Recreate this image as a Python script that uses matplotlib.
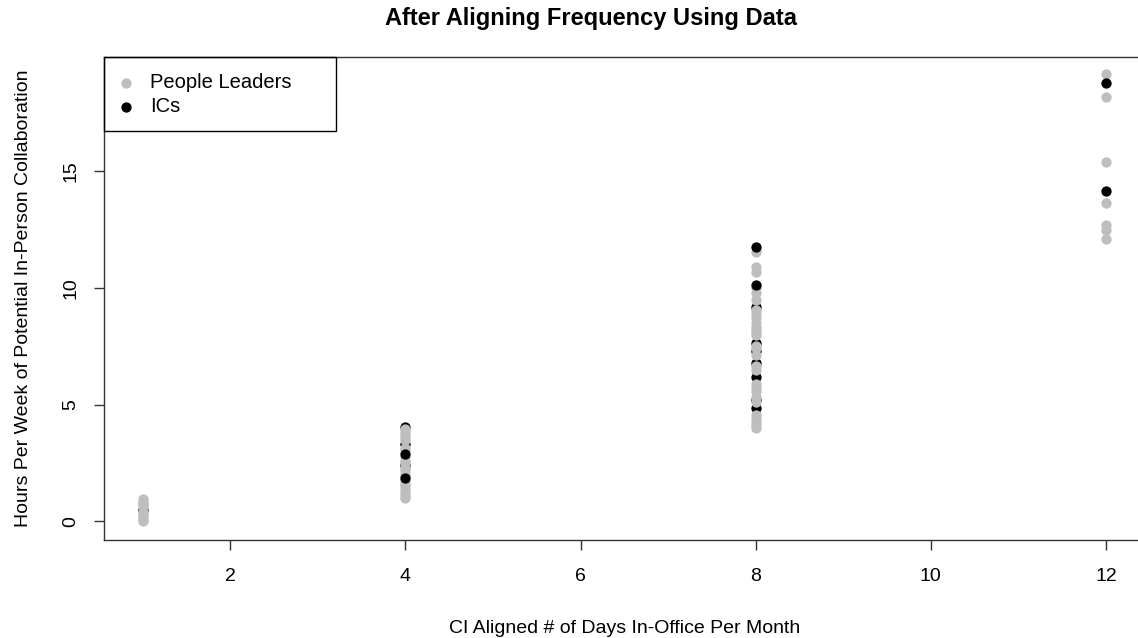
import matplotlib
matplotlib.use("Agg")
import matplotlib.pyplot as plt
from matplotlib.patches import Rectangle

plt.rcParams['font.family'] = ['Liberation Sans', 'DejaVu Sans']

# hours per week for people leaders, by aligned in-office days
leaders_d1 = [0.0, 0.12, 0.25, 0.33, 0.42, 0.8, 0.67, 0.75, 0.85, 0.94]
leaders_d4 = [1.0, 1.1, 1.2, 1.35, 1.5, 1.6, 1.75, 1.95, 2.05, 2.2, 2.3,
              2.5, 2.6, 2.75, 3.05, 3.15, 3.5, 3.6, 3.75, 3.85, 3.95]
leaders_d8 = [11.54, 10.9, 10.7, 10.0, 9.77, 9.47, 9.05, 8.9, 8.7, 8.5,
              8.35, 8.2, 8.0, 8.1, 7.5, 7.45, 7.15, 6.65, 6.5, 5.88,
              5.75, 5.6, 5.35, 5.1, 4.55, 4.4, 4.25, 4.15, 4.0]
leaders_d12 = [19.16, 18.19, 15.4, 13.64, 12.69, 12.47, 12.09]

leaders_x = ([1] * len(leaders_d1) + [4] * len(leaders_d4)
             + [8] * len(leaders_d8) + [12] * len(leaders_d12))
leaders_y = leaders_d1 + leaders_d4 + leaders_d8 + leaders_d12

# ICs drawn beneath / above the leaders
ics_back_x = [1, 4, 4, 4, 8, 8, 8, 8, 8, 8, 8]
ics_back_y = [0.47, 4.04, 3.33, 2.4, 9.18, 7.64, 7.3, 6.77, 6.18, 5.19, 4.84]
ics_front_x = [4, 4, 8, 8, 12, 12]
ics_front_y = [2.9, 1.84, 11.74, 10.14, 18.8, 14.14]

grey = '#bebebe'
ms = 55

fig = plt.figure(figsize=(11.38, 6.38), dpi=100)
ax = fig.add_axes([104 / 1138, 98 / 638, 1040.6 / 1138, 483 / 638])

ax.scatter(ics_back_x, ics_back_y, s=ms, color='black', linewidths=0, zorder=2)
ax.scatter(leaders_x, leaders_y, s=ms, color=grey, linewidths=0, zorder=3)
ax.scatter(ics_front_x, ics_front_y, s=ms, color='black', linewidths=0, zorder=4)

ax.set_xlim(0.56, 12.44)
ax.set_ylim(-0.8, 19.9)
ax.set_xticks([2, 4, 6, 8, 10, 12])
ax.set_yticks([0, 5, 10, 15])
ax.tick_params(length=7.5, width=1, labelsize=14, color='#333333')
ax.tick_params(axis='x', pad=13)
ax.tick_params(axis='y', pad=10)
for lbl in ax.get_yticklabels():
    lbl.set_rotation(90)
    lbl.set_va('center')
for sp in ax.spines.values():
    sp.set_linewidth(1)
    sp.set_color('#333333')

ax.set_xlabel('CI Aligned # of Days In-Office Per Month', fontsize=14, labelpad=25)
ax.set_ylabel('Hours Per Week of Potential In-Person Collaboration', fontsize=14, labelpad=22)
fig.text(591 / 1138, 1 - 19 / 638, 'After Aligning Frequency Using Data',
         fontsize=17, fontweight='bold', ha='center', va='center')

# legend box in the top-left corner
ax.add_patch(Rectangle((0, 1), 232 / 1040.6, -74 / 483, transform=ax.transAxes,
                       fill=False, edgecolor='black', linewidth=1, zorder=5,
                       clip_on=False))
leg = ax.legend(handles=[
    ax.scatter([], [], s=ms, color=grey, linewidths=0, label='People Leaders'),
    ax.scatter([], [], s=ms, color='black', linewidths=0, label='ICs')],
    loc='upper left', bbox_to_anchor=(116 / 1138, 1 - 73 / 638),
    bbox_transform=fig.transFigure, frameon=False, borderpad=0,
    fontsize=14.5, handlelength=1.0, handletextpad=0.7, labelspacing=0.25,
    borderaxespad=0)

fig.savefig('out.png', dpi=100)
